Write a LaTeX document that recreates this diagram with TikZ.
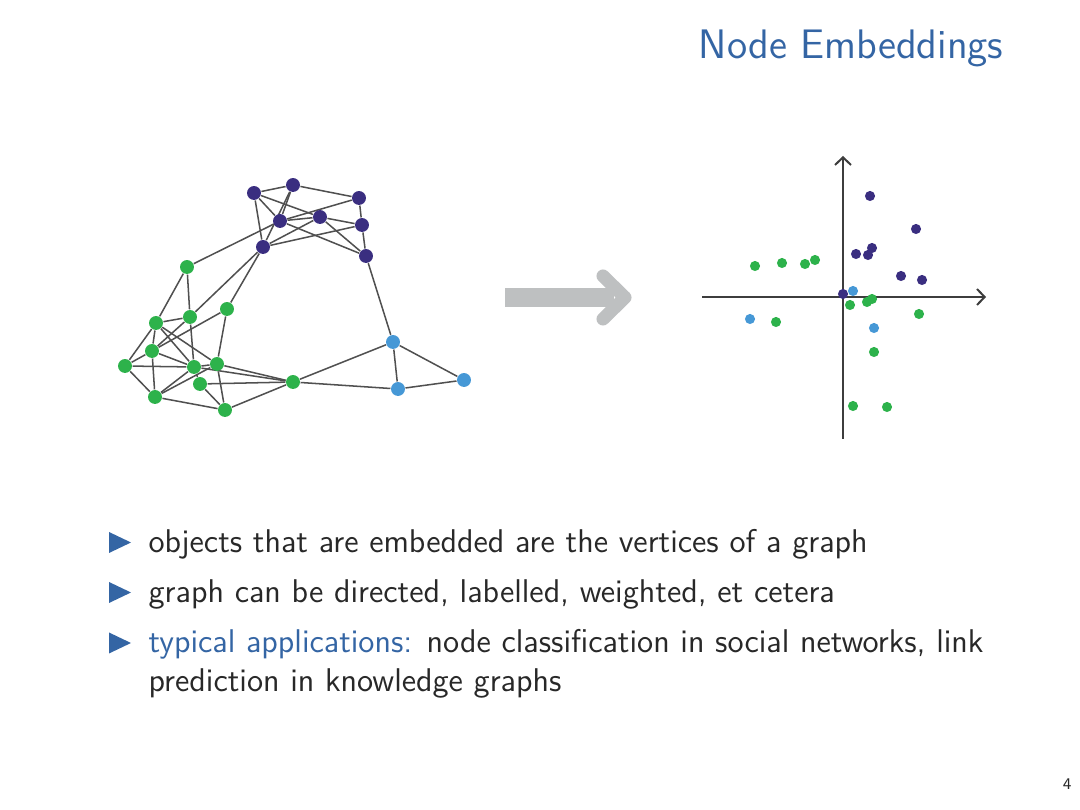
\documentclass[tikz,border=0pt]{standalone}
\usetikzlibrary{backgrounds,arrows.meta}
\definecolor{ngreen}{RGB}{45,178,75}
\definecolor{npurple}{RGB}{58,46,128}
\definecolor{nblue}{RGB}{70,152,214}
\definecolor{edgegray}{RGB}{80,80,80}
\definecolor{sblue}{RGB}{52,101,164}
\definecolor{txt}{RGB}{40,40,40}
\definecolor{arrgray}{RGB}{190,192,193}
\tikzset{
  gnode/.style={circle, inner sep=0pt, minimum size=1.65mm, draw=none},
  gn/.style={gnode, fill=ngreen},
  pn/.style={gnode, fill=npurple},
  bn/.style={gnode, fill=nblue},
  sdot/.style={circle, inner sep=0pt, minimum size=1.2mm, draw=none},
  sg/.style={sdot, fill=ngreen},
  sp/.style={sdot, fill=npurple},
  sb/.style={sdot, fill=nblue},
  edge/.style={draw=edgegray, line width=0.18mm},
  axis/.style={draw=txt!90, line width=0.24mm, -{Straight Barb[length=0.9mm,width=1.9mm]}},
  bodytext/.style={anchor=base west, inner sep=0pt, text=txt, font=\sffamily\fontsize{11.08}{13.6}\selectfont},
  bullet/.style={fill=sblue}
}
\begin{document}
\begin{tikzpicture}[x=0.118519mm, y=-0.118519mm]
\useasboundingbox (0,0) rectangle (1080,810);
% title
\node[anchor=base east, inner sep=0pt, text=sblue, font=\sffamily\fontsize{13.9}{17}\selectfont] (title) at (1004,59) {Node Embeddings};
% graph nodes
\node[pn] (P1) at (254,193) {};
\node[pn] (P2) at (293,185) {};
\node[pn] (P3) at (359,198) {};
\node[pn] (P4) at (280,221) {};
\node[pn] (P5) at (320,217) {};
\node[pn] (P6) at (362,225) {};
\node[pn] (P7) at (263,247) {};
\node[pn] (P8) at (366,256) {};
\node[bn] (B1) at (393,342) {};
\node[bn] (B2) at (398,389) {};
\node[bn] (B3) at (464,380) {};
\node[gn] (G1) at (187,267) {};
\node[gn] (G2) at (227,309) {};
\node[gn] (G3) at (190,317) {};
\node[gn] (G4) at (156,323) {};
\node[gn] (G5) at (152,351) {};
\node[gn] (G6) at (125,366) {};
\node[gn] (G7) at (194,367) {};
\node[gn] (G8) at (217,364) {};
\node[gn] (G9) at (200,384) {};
\node[gn] (G10) at (155,397) {};
\node[gn] (G11) at (225,410) {};
\node[gn] (G12) at (293,382) {};
\begin{scope}[on background layer]
\foreach \a/\b in {P1/P2,P2/P3,P1/P4,P1/P5,P1/P7,P2/P4,P2/P7,P4/P3,P4/P5,P5/P6,P7/P5,P7/P6,P3/P6,P6/P8,P4/P8,P5/P8,
  P8/B1,B1/B2,B1/B3,B2/B3,G12/B1,G12/B2,
  G1/P4,G3/P7,G2/P7,G1/G4,G1/G3,G4/G3,G4/G5,G4/G7,G4/G8,G6/G4,G5/G3,G5/G2,G5/G7,G5/G10,G6/G5,G6/G7,G6/G10,
  G10/G7,G10/G8,G10/G11,G3/G7,G2/G8,G7/G8,G8/G12,G7/G12,G9/G12,G11/G12,G8/G11,G9/G11,G7/G9}
  \draw[edge] (\a) -- (\b);
\end{scope}
% big arrow
\coordinate (arrS) at (505,297.5);
\coordinate (arrE) at (614,297.5);
\coordinate (chT) at (603,276);
\coordinate (chM) at (625,297.5);
\coordinate (chB) at (603,319);
\draw[arrgray, line width=2.25mm] (arrS) -- (arrE);
\draw[arrgray, line width=1.55mm, line cap=round, line join=round] (chT) -- (chM) -- (chB);
% axes
\coordinate (xl) at (702,297);
\coordinate (xr) at (986,297);
\coordinate (yb) at (843,439);
\coordinate (yt) at (843,156);
\draw[axis] (xl) -- (xr);
\draw[axis] (yb) -- (yt);
% scatter
\node[sp] (s1) at (870,196) {};
\node[sp] (s2) at (916,229) {};
\node[sp] (s3) at (872,248) {};
\node[sp] (s4) at (856,254) {};
\node[sp] (s5) at (868,255) {};
\node[sp] (s6) at (901,276) {};
\node[sp] (s7) at (922,280) {};
\node[sg] (s8) at (755,266) {};
\node[sg] (s9) at (782,263) {};
\node[sg] (s10) at (805,264) {};
\node[sg] (s11) at (815,260) {};
\node[sg] (s12) at (850,305) {};
\node[sg] (s13) at (867,302) {};
\node[sg] (s14) at (872,299) {};
\node[sg] (s15) at (919,314) {};
\node[sg] (s16) at (776,322) {};
\node[sg] (s17) at (874,352) {};
\node[sg] (s18) at (853,406) {};
\node[sg] (s19) at (887,407) {};
\node[sb] (s20) at (853,291) {};
\node[sb] (s21) at (750,319) {};
\node[sb] (s22) at (874,328) {};
\node[sp] (s23) at (843,294) {};
% bullets
\fill[bullet] (109,532) -- (131,542.5) -- (109,553) -- cycle;
\fill[bullet] (109,582) -- (131,592.5) -- (109,603) -- cycle;
\fill[bullet] (109,632.5) -- (131,643) -- (109,653.5) -- cycle;
\node[bodytext] (t1) at (148,553) {objects that are embedded are the vertices of a graph};
\node[bodytext] (t2) at (148,602.5) {graph can be directed, labelled, weighted, et cetera};
\node[bodytext] (t3) at (148,652.5) {\textcolor{sblue}{typical applications:} node classification in social networks, link};
\node[bodytext] (t4) at (148,691.5) {prediction in knowledge graphs};
\node[anchor=base east, inner sep=0pt, text=txt, font=\sffamily\fontsize{5.5}{6}\selectfont] (pg) at (1072,790) {4};
\end{tikzpicture}
\end{document}
